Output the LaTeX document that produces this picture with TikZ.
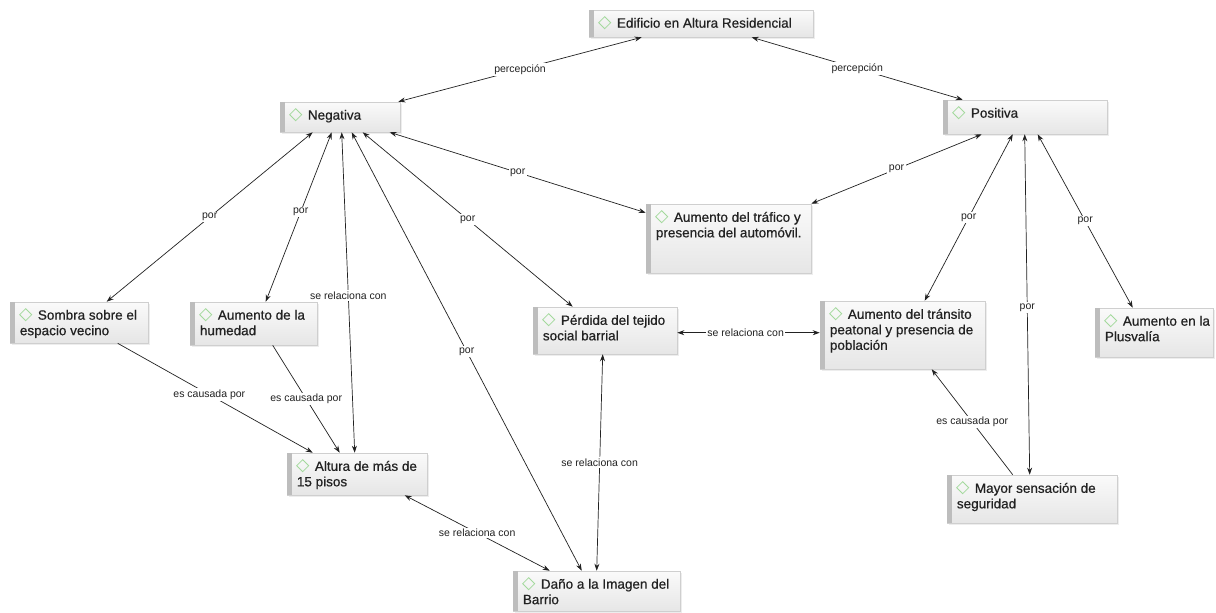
\documentclass[tikz,border=0pt]{standalone}
\usepackage{fontspec}
\setmainfont{Liberation Sans}
\newfontfamily\boxfont{Liberation Sans}[FakeBold=0.6]
\usetikzlibrary{arrows.meta,fit}
\definecolor{boxtop}{HTML}{FAFAFA}
\definecolor{boxbot}{HTML}{E6E6E6}
\definecolor{boxline}{HTML}{CFCFCF}
\definecolor{barcol}{HTML}{BDBDBD}
\definecolor{diacol}{HTML}{A3D99C}
\definecolor{txtcol}{HTML}{222222}
\definecolor{edgecol}{HTML}{222222}
\tikzset{
 cbox/.style={draw=boxline, top color=boxtop, bottom color=boxbot, inner sep=0pt, line width=0.6pt},
 ctext/.style={anchor=north west, inner sep=0pt, align=left, text=txtcol, font=\boxfont\fontsize{13.5}{15.5}\selectfont},
 elabel/.style={fill=white, inner sep=1.5pt, text=txtcol, font=\fontsize{10.5}{12}\selectfont},
 conn/.style={draw=edgecol, line width=0.7pt},
 both/.style={conn, {Stealth[length=7pt,width=5pt]}-{Stealth[length=7pt,width=5pt]}},
 one/.style={conn, -{Stealth[length=7pt,width=5pt]}},
}
\newcommand\cmapbox[6]{%
 \fill[black!7] (#2+1.5,#3+1.5) rectangle (#4+1.5,#5+1.5);
 \node[cbox, fit={(#2,#3)(#4,#5)}] (#1) {};
 \fill[barcol] (#1.north west) rectangle ([xshift=5pt]#1.south west);
 \draw[diacol, line width=0.8pt] ([shift={(10pt,-13pt)}]#1.north west) -- ++(6pt,6pt) -- ++(6pt,-6pt) -- ++(-6pt,-6pt) -- cycle;
 \node[ctext] (#1t) at ([shift={(10pt,-8pt)}]#1.north west) {\hspace*{18pt}#6};
}
\begin{document}
\begin{tikzpicture}[x=1pt,y=-1pt]
\fill[white] (0,0) rectangle (1216,613);
\useasboundingbox (0,0) rectangle (1216,613);

\cmapbox{edif}{589}{10}{813}{37}{Edificio en Altura Residencial}
\cmapbox{neg}{280}{102}{400}{132}{Negativa}
\cmapbox{pos}{943}{100}{1107}{134}{Positiva}
\cmapbox{traf}{646}{204}{811}{273}{Aumento del tráfico y\\presencia del automóvil.}
\cmapbox{somb}{10}{302}{148}{343}{Sombra sobre el\\espacio vecino}
\cmapbox{hum}{190}{302}{317}{345}{Aumento de la\\humedad}
\cmapbox{perd}{533}{307}{677}{354}{Pérdida del tejido\\social barrial}
\cmapbox{tran}{820}{301}{985}{369}{Aumento del tránsito\\peatonal y presencia de\\población}
\cmapbox{plus}{1095}{308}{1213}{357}{Aumento en la\\Plusvalía}
\cmapbox{alt}{287}{453}{427}{495}{Altura de más de\\15 pisos}
\cmapbox{may}{947}{475}{1117}{523}{Mayor sensación de\\seguridad}
\cmapbox{dano}{513}{571}{680}{611}{Daño a la Imagen del\\Barrio}

% percepcion
\draw[both] ([xshift=-2pt]neg.north east) -- node[elabel]{percepción} ([xshift=53pt]edif.south west);
\draw[both] ([xshift=163pt]edif.south west) -- node[elabel]{percepción} ([xshift=20pt]pos.north west);
% trafico
\draw[both] ([xshift=110pt]neg.south west) -- node[elabel]{por} ([yshift=-9pt]traf.north west);
\draw[both] ([xshift=39pt]pos.south west) -- node[elabel]{por} (traf.north east);
% negativa
\draw[both] ([xshift=33pt]neg.south west) -- node[elabel]{por} ([xshift=97pt]somb.north west);
\draw[both] ([xshift=52pt]neg.south west) -- node[elabel,pos=0.47]{por} ([xshift=76pt]hum.north west);
\draw[both] ([xshift=62pt]neg.south west) -- node[elabel,pos=0.51]{se relaciona con} ([xshift=68pt]alt.north west);
\draw[both] ([xshift=72pt]neg.south west) -- node[elabel]{por} ([xshift=69pt]dano.north west);
\draw[both] ([xshift=83pt]neg.south west) -- node[elabel]{por} ([xshift=40pt]perd.north west);
% causes
\draw[one] ([xshift=108pt]somb.south west) -- node[elabel,pos=0.47]{es causada por} ([xshift=26pt]alt.north west);
\draw[one] ([xshift=83pt]hum.south west) -- node[elabel]{es causada por} ([xshift=53pt]alt.north west);
\draw[both] ([xshift=118pt]alt.south west) -- node[elabel]{se relaciona con} ([xshift=37pt]dano.north west);
\draw[both] ([xshift=70pt]perd.south west) -- node[elabel]{se relaciona con} ([xshift=84pt]dano.north west);
\draw[both] ([yshift=-26pt]perd.north east) -- node[elabel,pos=0.48]{se relaciona con} ([yshift=-32pt]tran.north west);
% positiva
\draw[both] ([xshift=70pt]pos.south west) -- node[elabel]{por} ([xshift=105pt]tran.north west);
\draw[both] ([xshift=82pt]pos.south west) -- node[elabel,pos=0.51]{por} ([xshift=83pt]may.north west);
\draw[both] ([xshift=95pt]pos.south west) -- node[elabel]{por} ([xshift=38pt]plus.north west);
\draw[one] ([xshift=66pt]may.north west) -- node[elabel]{es causada por} ([xshift=112pt]tran.south west);
\end{tikzpicture}
\end{document}
